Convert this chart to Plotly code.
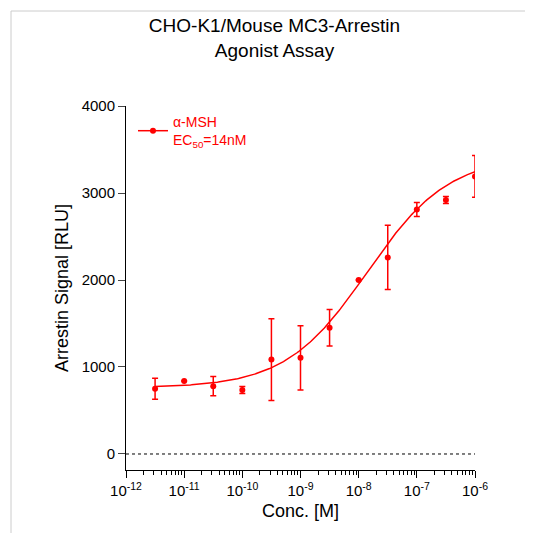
import numpy as np
import plotly.graph_objects as go

log_conc = [-11.5, -11, -10.5, -10, -9.5, -9, -8.5, -8, -7.5, -7, -6.5, -6]
signal = [750, 840, 780, 735, 1085, 1105, 1450, 2000, 2260, 2810, 2920, 3190]
err = [120, 0, 110, 40, 470, 370, 210, 0, 370, 80, 40, 240]
fit_bottom, fit_top, fit_logec50, fit_hill = 760, 3420, np.log10(14e-9), 0.62

conc = [10**v for v in log_conc]
xf = np.logspace(-11.5, -6, 300)
yf = fit_bottom + (fit_top - fit_bottom) / (1 + 10**((fit_logec50 - np.log10(xf)) * fit_hill))
red = "#ff0000"

fig = go.Figure()
fig.add_trace(go.Scatter(x=xf, y=yf, mode="lines", line=dict(color=red, width=1.5), showlegend=False))
fig.add_trace(go.Scatter(x=conc, y=signal, mode="markers", marker=dict(color=red, size=6),
                         error_y=dict(type="data", array=err, color=red, thickness=1.5, width=3),
                         showlegend=False))
fig.add_trace(go.Scatter(x=[None], y=[None], mode="lines+markers", line=dict(color=red, width=1.5),
                         marker=dict(color=red, size=6), name="α-MSH<br>EC<sub>50</sub>=14nM"))
fig.add_shape(type="line", xref="paper", yref="y", x0=0, x1=1, y0=0, y1=0,
              line=dict(color="black", width=1, dash="dot"))
pw, ph = 349, 364
fig.add_shape(type="rect", xref="paper", yref="paper",
              x0=-115 / pw, x1=1 + 63 / pw, y0=-68 / ph, y1=1 + 95 / ph,
              line=dict(color="#cccccc", width=1), layer="below")

decades = list(range(-12, -5))
minor = [np.log10(m) + d for d in decades[:-1] for m in range(2, 10)]
fig.update_layout(
    width=533, height=533, plot_bgcolor="white", paper_bgcolor="white",
    margin=dict(l=118, r=66, t=98, b=71, autoexpand=False),
    font=dict(family="Liberation Sans, Arial", size=15, color="black"),
    title=dict(text="CHO-K1/Mouse MC3-Arrestin<br>Agonist Assay", x=0.5, xanchor="center",
               y=0.955, yanchor="top", font=dict(size=19)),
    xaxis=dict(type="log", range=[-12, -6], showline=True, linecolor="black", linewidth=1,
               ticks="outside", ticklen=7, tickcolor="black", automargin=False,
               tickvals=[10**d for d in decades], ticktext=[f"10<sup>{d}</sup>" for d in decades],
               minor=dict(tickvals=[10**m for m in minor], ticks="outside", ticklen=4, tickcolor="black"),
               showgrid=False, zeroline=False, title=dict(text="Conc. [M]", standoff=6)),
    yaxis=dict(range=[-184, 4000], showline=True, linecolor="black", linewidth=1, automargin=False,
               ticks="outside", ticklen=7, tickvals=[0, 1000, 2000, 3000, 4000],
               showgrid=False, zeroline=False, title=dict(text="Arrestin Signal [RLU]", standoff=8)),
    legend=dict(x=0.02, y=1.0, xanchor="left", yanchor="top", bgcolor="rgba(0,0,0,0)",
                font=dict(color=red, size=14)),
)
fig.write_html("out.html")
